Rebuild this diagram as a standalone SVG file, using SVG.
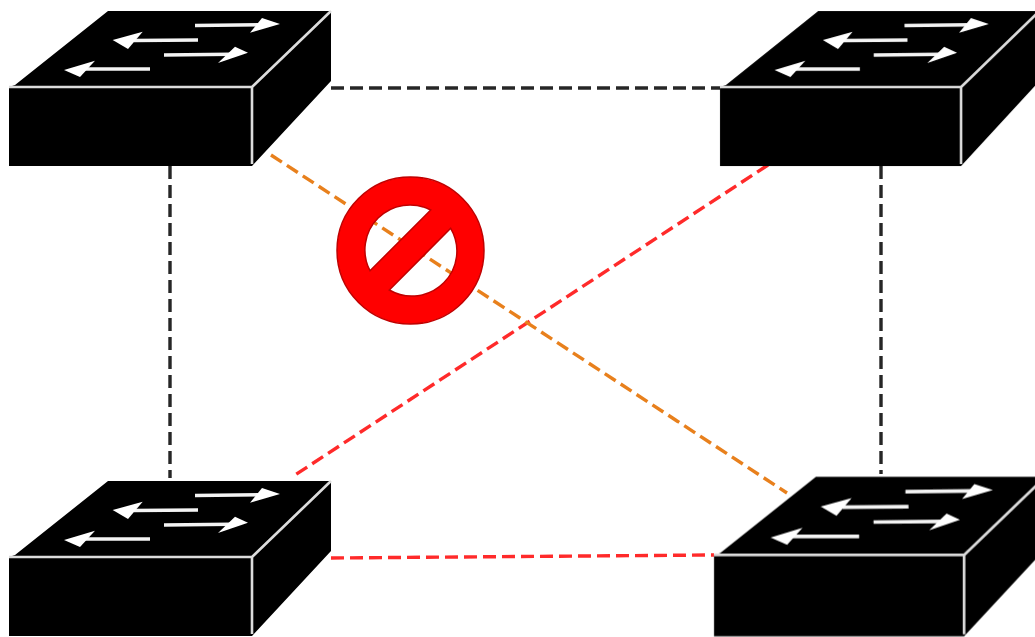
<svg xmlns="http://www.w3.org/2000/svg" width="1035" height="637" viewBox="0 0 1035 637">
  <style>
    .link{fill:none;stroke-width:3.4;stroke-dasharray:13 6}
    .black{stroke:#262626}
    .red{stroke:#ff2a2a}
    .orange{stroke:#e8801e}
    .edge{fill:none;stroke:#dcdcdc;stroke-width:2.6}
    .shaft{fill:none;stroke:#f4f4f4;stroke-width:3.6}
    .head{fill:#fff}
  </style>
  <defs>
    <filter id="soft" x="-5%" y="-5%" width="110%" height="110%"><feGaussianBlur stdDeviation="0.55"/></filter>
    <g id="switch">
      <path d="M6 -2 L99 -76 L322 -76 L322 -6 L243 79 L0 79 L0 0 Z" fill="#000"/>
      <path class="edge" d="M0 0 H243 V77 M243 0 L322 -76"/>
      <path class="shaft" d="M186 -61.500 L250 -62.200"/>
      <path class="head" d="M271 -63 L253 -69 L241 -54.300 Z"/>
      <path class="shaft" d="M189 -47 L125 -46.500"/>
      <path class="head" d="M103.700 -47 L133.700 -55.300 L119 -38 Z"/>
      <path class="shaft" d="M155 -32 L222 -32.700"/>
      <path class="head" d="M239 -34.300 L226 -40.300 L209 -24 Z"/>
      <path class="shaft" d="M141 -18 L76 -18"/>
      <path class="head" d="M55 -17 L86 -26.300 L71 -10 Z"/>
    </g>
  </defs>
  <rect width="1035" height="637" fill="#fff"/>
  <g filter="url(#soft)">
    <g id="connectors">
      <path class="link black" d="M331 88 H720"/>
      <path class="link black" d="M170 166 V478"/>
      <path class="link black" d="M881 166 V474"/>
      <path class="link red" d="M768 165 L292 477"/>
      <path class="link red" d="M331 558 L714 555"/>
      <path class="link orange" d="M271 155 L787 493"/>
    </g>
    <g id="switch-top-left"><use href="#switch" transform="translate(9 87)"/></g>
    <g id="switch-top-right"><use href="#switch" transform="translate(720 87) scale(0.992 1)"/></g>
    <g id="switch-bottom-left"><use href="#switch" transform="translate(9 557)"/></g>
    <g id="switch-bottom-right"><use href="#switch" transform="translate(714 555) scale(1.029 1.03)"/></g>
    <g id="no-symbol">
      <path fill="#ff0000" stroke="#c00000" stroke-width="1.5" fill-rule="evenodd" d="M484 250.500 A73.500 73.500 0 1 1 337 250.500 A73.500 73.500 0 1 1 484 250.500 Z M370 270.700 A45 45 0 0 1 430.700 210 Z M450.700 228.300 A45 45 0 0 1 389.300 290 Z"/>
    </g>
  </g>
</svg>
